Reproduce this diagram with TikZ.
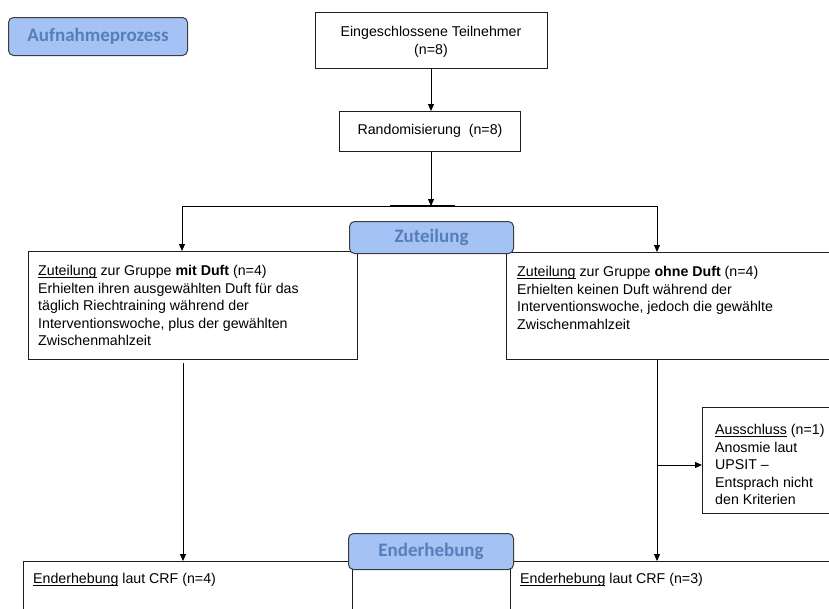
\documentclass[tikz,border=0pt]{standalone}
\usepackage{fontspec}
\setmainfont{Liberation Sans}
\newfontfamily\labelfont{Carlito}
\usetikzlibrary{arrows.meta,calc}
\definecolor{phasefill}{RGB}{164,194,244}
\definecolor{phasetext}{RGB}{88,126,186}
\definecolor{phaseedge}{RGB}{60,60,60}
\definecolor{boxedge}{RGB}{30,30,30}

% underline that sits just below the baseline, crossing descenders
\newcommand{\ulword}[1]{\setbox0\hbox{#1}\rlap{\rule[-1.9pt]{\wd0}{0.75pt}}\box0{}}

\begin{document}
\begin{tikzpicture}[x=1pt,y=-1pt,
  box/.style={draw=boxedge, line width=1.1pt, fill=white, inner sep=0pt, anchor=north west},
  phase/.style={draw=phaseedge, line width=1pt, fill=phasefill, rounded corners=5pt,
    text=phasetext, font=\labelfont\bfseries\fontsize{19}{22}\selectfont,
    inner sep=0pt, anchor=north west},
  body/.style={anchor=north west, align=left, inner sep=0pt,
    font=\fontsize{14.2}{17.6}\selectfont},
  centred/.style={align=center, inner sep=0pt, font=\fontsize{14.2}{17.6}\selectfont},
  arr/.style={line width=0.9pt, -{Triangle[length=7pt,width=6pt]}},
  link/.style={line width=0.9pt}]

\useasboundingbox (0,0) rectangle (829,608);
\clip (0,0) rectangle (829,608);

% ---- boxes ----
\node[box, minimum width=232pt, minimum height=56pt] (ein) at (315,12) {};
\node[centred] (eintxt) at (431,42) {Eingeschlossene Teilnehmer\\(n=8)};

\node[box, minimum width=181pt, minimum height=40pt] (rand) at (339,111) {};
\node[centred] (randtxt) at (430,131) {Randomisierung\ \ (n=8)};

\node[box, minimum width=329pt, minimum height=108pt] (grpA) at (28,251) {};
\node[body] (grpAtxt) at (38,265) {\ulword{Zuteilung}\ zur Gruppe \textbf{mit Duft} (n=4)\\
  Erhielten ihren ausgewählten Duft für das\\
  täglich Riechtraining während der\\
  Interventionswoche,\ plus der gewählten\\
  Zwischenmahlzeit};

\node[box, minimum width=340pt, minimum height=107pt] (grpB) at (506,252) {};
\node[body] (grpBtxt) at (517,266) {\ulword{Zuteilung} zur Gruppe \textbf{ohne Duft} (n=4)\\
  Erhielten keinen Duft während der\\
  Interventionswoche,\ jedoch die gewählte\\
  Zwischenmahlzeit};

\node[box, minimum width=140pt, minimum height=106pt] (exc) at (702,407) {};
\node[body] (exctxt) at (715,424) {\ulword{Ausschluss} (n=1)\\
  Anosmie laut\\
  UPSIT –\\
  Entsprach nicht\\
  den Kriterien};

\node[box, minimum width=329pt, minimum height=60pt] (endA) at (23,561) {};
\node[body] (endAtxt) at (33,573) {\ulword{Enderhebung}\ laut CRF (n=4)};

\node[box, minimum width=340pt, minimum height=60pt] (endB) at (510,561) {};
\node[body] (endBtxt) at (520,573) {\ulword{Enderhebung}\ laut CRF (n=3)};

% ---- connectors ----
\coordinate (split)  at (431,206);
\coordinate (splitL) at (182,206);
\coordinate (splitR) at (657,206);
\coordinate (barL)   at (390,206);
\coordinate (barR)   at (455,206);
\coordinate (dropL)  at (183,363);
\coordinate (branch) at (657,465);

\draw[arr] (ein.south -| split) -- (split |- rand.north);
\draw[arr] (split |- rand.south) -- (split);
\draw[link] (splitL) -- (splitR);
\draw[line width=2.4pt] (barL) -- (barR);
\draw[arr] (splitL) -- (splitL |- grpA.north);
\draw[arr] (splitR) -- (splitR |- grpB.north);
\draw[arr] (dropL) -- (dropL |- endA.north);
\draw[arr] (splitR |- grpB.south) -- (splitR |- endB.north);
\draw[arr] (branch) -- (branch -| exc.west);

% ---- phase labels ----
\node[phase, minimum width=179pt, minimum height=38pt] (aufn) at (8,17) {Aufnahmeprozess};
\node[phase, minimum width=164pt, minimum height=32pt] (zut) at (349,221) {Zuteilung};
\node[phase, minimum width=165pt, minimum height=36pt] (endh) at (348,533) {Enderhebung};

\end{tikzpicture}
\end{document}
